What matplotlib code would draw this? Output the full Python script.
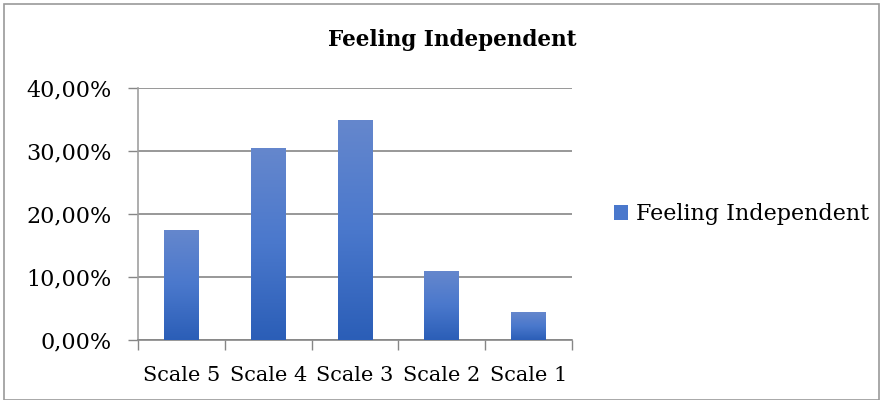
import numpy as np
import matplotlib.pyplot as plt
from matplotlib.colors import LinearSegmentedColormap
from matplotlib.patches import Rectangle
from matplotlib.ticker import FuncFormatter

categories = ['Scale 5', 'Scale 4', 'Scale 3', 'Scale 2', 'Scale 1']
values = [17.39, 30.43, 34.78, 10.87, 4.35]
series_name = 'Feeling Independent'

plt.rcParams['font.family'] = ['DejaVu Serif']

fig = plt.figure(figsize=(8.83, 4.0), dpi=100)
fig.patches.append(Rectangle((0.005, 0.0), 0.99, 0.99, transform=fig.transFigure,
                             fill=False, edgecolor='#9a9a9a', linewidth=1.2))
ax = fig.add_axes([0.1563, 0.15, 0.4915, 0.63])

# gradient fill, darker at the base like the office chart
grad = LinearSegmentedColormap.from_list('g', ['#2b5eb7', '#4a78cc', '#6587cd'])
x = np.arange(len(categories))
w = 0.40
bars = ax.bar(x, values, width=w, color='#4472c4', zorder=2)
g = np.linspace(0, 1, 256).reshape(-1, 1)
for b in bars:
    x0, y0 = b.get_x(), b.get_y()
    ax.imshow(g, cmap=grad, origin='lower', aspect='auto', zorder=3,
              extent=[x0, x0 + b.get_width(), y0, y0 + b.get_height()])

ax.set_xlim(-0.5, len(categories) - 0.5)
ax.set_ylim(0, 40)
ax.set_yticks([0, 10, 20, 30, 40])
ax.yaxis.set_major_formatter(FuncFormatter(lambda v, p: f'{v:.2f}%'.replace('.', ',')))
ax.set_xticks(x)
ax.set_xticklabels(categories)
ax.set_xticks(np.arange(-0.5, len(categories)), minor=True)
ax.tick_params(axis='x', which='major', length=0, labelsize=15, pad=19)
ax.tick_params(axis='x', which='minor', length=7, color='#868686', width=1)
ax.tick_params(axis='y', length=7, color='#868686', width=1, labelsize=16, pad=12)
ax.grid(axis='y', color='#868686', linewidth=1.2, zorder=0)
ax.set_axisbelow(True)
for s in ['top', 'right']:
    ax.spines[s].set_visible(False)
ax.spines['left'].set_color('#a0a0a0')
ax.spines['bottom'].set_color('#868686')
ax.spines['left'].set_linewidth(1.2)
ax.spines['bottom'].set_linewidth(1.2)

fig.text(0.5125, 0.9, series_name, ha='center', va='center', fontsize=15.5, fontweight='bold')
ax.legend(handles=[Rectangle((0, 0), 1, 1, facecolor='#4a78cc')], labels=[series_name],
          loc='center left', bbox_to_anchor=(1.05, 0.5), frameon=False, fontsize=16,
          handlelength=0.65, handleheight=0.65, handletextpad=0.35)

fig.savefig('out.png', dpi=100)
